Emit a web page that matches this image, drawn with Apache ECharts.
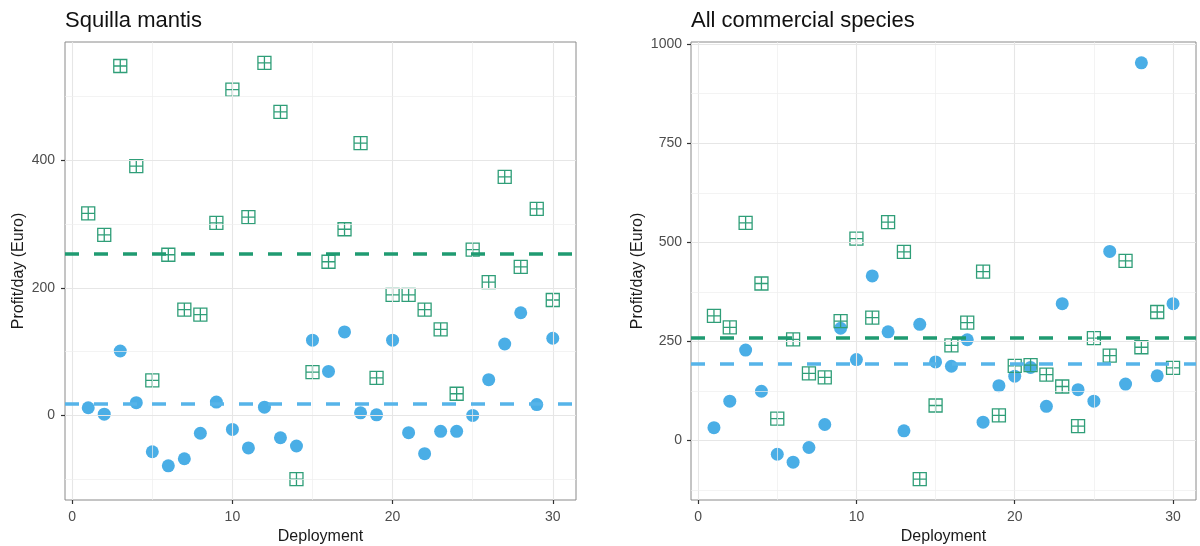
<!DOCTYPE html>
<html>
<head>
<meta charset="utf-8">
<script src="https://cdn.jsdelivr.net/npm/echarts@6/dist/echarts.min.js"></script>
<style>
html,body{margin:0;padding:0;background:#fff;}
#chart{width:1200px;height:546px;}
</style>
</head>
<body>
<div id="chart"></div>
<script>
// ---- data ----
const deployment = [1,2,3,4,5,6,7,8,9,10,11,12,13,14,15,16,17,18,19,20,21,22,23,24,25,26,27,28,29,30];
const squillaSquares = [317,283,548,391,55,252,166,158,302,511,311,553,476,-100,68,241,292,427,59,189,189,166,135,34,260,209,374,233,324,181];
const squillaCircles = [12,2,101,20,-57,-79,-68,-28,21,-22,-51,13,-35,-48,118,69,131,4,1,118,-27,-60,-25,-25,0,56,112,161,17,121];
const squillaMeans = [253, 18];   // [square group, circle group]
const allSquares = [314,285,549,396,55,255,169,159,301,509,310,551,476,-98,88,240,297,426,63,188,190,166,136,36,258,214,453,235,324,183];
const allCircles = [32,99,228,124,-35,-55,-18,40,283,204,415,274,24,293,198,187,254,46,138,162,184,86,345,128,99,477,142,953,163,345];
const allMeans = [258, 194];
const xTicks = [0,10,20,30];
const xMinor = [5,15,25];
const squillaYTicks = [0,200,400];
const squillaYMinor = [-100,100,300,500];
const allYTicks = [0,250,500,750,1000];
const allYMinor = [-125,125,375,625,875];
const titles = ['Squilla mantis', 'All commercial species'];

// ---- styling ----
const FONT = 'Liberation Sans, Arial, sans-serif';
const GREEN = '#2f9e78';
const GREEN_LINE = '#1f9b71';
const BLUE = '#4aaee6';
const BLUE_LINE = '#56b4e9';
const SQUARE_PATH = 'path://M1,1H11V11H1ZM6,1V11M1,6H11';

function expand(vals){
  const mn = Math.min(...vals), mx = Math.max(...vals);
  const d = (mx - mn) * 0.05;
  return [mn - d, mx + d];
}

const xExt = expand(deployment);
const yExt1 = expand(squillaSquares.concat(squillaCircles));
const yExt2 = expand(allSquares.concat(allCircles));

const plainNum = v => String(Math.round(v));

function xAxis(gi){
  return {
    type:'value', gridIndex:gi, position:'bottom', min:xExt[0], max:xExt[1],
    name:'Deployment', nameLocation:'middle', nameGap:26,
    nameTextStyle:{fontFamily:FONT, fontSize:16, color:'#1a1a1a'},
    axisLine:{show:false, onZero:false},
    axisTick:{show:true, inside:false, length:4, customValues:xTicks, lineStyle:{color:'#333', width:1.2}},
    axisLabel:{customValues:xTicks, margin:10, formatter:plainNum, fontFamily:FONT, fontSize:14, color:'#4d4d4d'},
    splitLine:{show:false}
  };
}
function yAxis(gi, ext, ticks, gap, margin){
  return {
    type:'value', gridIndex:gi, position:'left', min:ext[0], max:ext[1],
    name:'Profit/day (Euro)', nameLocation:'middle', nameGap:gap,
    nameTextStyle:{fontFamily:FONT, fontSize:16, color:'#1a1a1a'},
    axisLine:{show:false, onZero:false},
    axisTick:{show:true, inside:false, length:4, customValues:ticks, lineStyle:{color:'#333', width:1.2}},
    axisLabel:{customValues:ticks, margin:margin, formatter:plainNum, fontFamily:FONT, fontSize:14, color:'#4d4d4d'},
    splitLine:{show:false}
  };
}

function gridSeries(gi, yMajor, yMinor){
  const data = [];
  const maj = {type:'solid', width:1.1, color:'#e6e6e6'};
  const min = {type:'solid', width:0.7, color:'#eeeeee'};
  xTicks.forEach(v=>data.push({xAxis:v, lineStyle:maj}));
  xMinor.forEach(v=>data.push({xAxis:v, lineStyle:min}));
  yMajor.forEach(v=>data.push({yAxis:v, lineStyle:maj}));
  yMinor.forEach(v=>data.push({yAxis:v, lineStyle:min}));
  return {
    type:'scatter', xAxisIndex:gi, yAxisIndex:gi, data:[], z:1, silent:true,
    markLine:{silent:true, symbol:['none','none'], label:{show:false}, animation:false,
      lineStyle:{type:'solid'}, data:data}
  };
}

function pts(vals){ return vals.map((v,i)=>[deployment[i], v]); }

function circleSeries(gi, vals){
  return {type:'scatter', xAxisIndex:gi, yAxisIndex:gi, data:pts(vals), symbol:'circle', symbolSize:13,
    itemStyle:{color:BLUE, opacity:1}, z:3, silent:true};
}
function squareSeries(gi, vals){
  return {type:'scatter', xAxisIndex:gi, yAxisIndex:gi, data:pts(vals), symbol:SQUARE_PATH, symbolSize:13,
    symbolKeepAspect:true,
    itemStyle:{color:'rgba(0,0,0,0)', borderColor:GREEN, borderWidth:1.3, opacity:1}, z:4, silent:true};
}
function meanSeries(gi, means){
  return {type:'scatter', xAxisIndex:gi, yAxisIndex:gi, data:[], z:5, silent:true,
    markLine:{silent:true, symbol:['none','none'], label:{show:false}, animation:false,
      data:[
        {yAxis:means[0], lineStyle:{color:GREEN_LINE, width:3.5, type:[14,15], opacity:1}},
        {yAxis:means[1], lineStyle:{color:BLUE_LINE, width:3.5, type:[14,15], opacity:1}}
      ]}};
}

const chart = echarts.init(document.getElementById('chart'), null, {renderer:'canvas'});
chart.setOption({
  animation:false,
  backgroundColor:'#fff',
  title:[
    {text:titles[0], left:60, top:5, textStyle:{fontFamily:FONT, fontSize:22, fontWeight:'normal', color:'#111'}},
    {text:titles[1], left:686, top:5, textStyle:{fontFamily:FONT, fontSize:22, fontWeight:'normal', color:'#111'}}
  ],
  grid:[
    {left:65, top:42, width:511, height:458, outerBoundsMode:'none', containLabel:false, show:true, borderColor:'#8a8a8a', borderWidth:1, backgroundColor:'#fff'},
    {left:691, top:42, width:505, height:458, outerBoundsMode:'none', containLabel:false, show:true, borderColor:'#8a8a8a', borderWidth:1, backgroundColor:'#fff'}
  ],
  xAxis:[xAxis(0), xAxis(1)],
  yAxis:[yAxis(0, yExt1, squillaYTicks, 38, 10), yAxis(1, yExt2, allYTicks, 45, 9)],
  series:[
    gridSeries(0, squillaYTicks, squillaYMinor),
    circleSeries(0, squillaCircles),
    squareSeries(0, squillaSquares),
    meanSeries(0, squillaMeans),
    gridSeries(1, allYTicks, allYMinor),
    circleSeries(1, allCircles),
    squareSeries(1, allSquares),
    meanSeries(1, allMeans)
  ]
});
</script>
</body>
</html>
